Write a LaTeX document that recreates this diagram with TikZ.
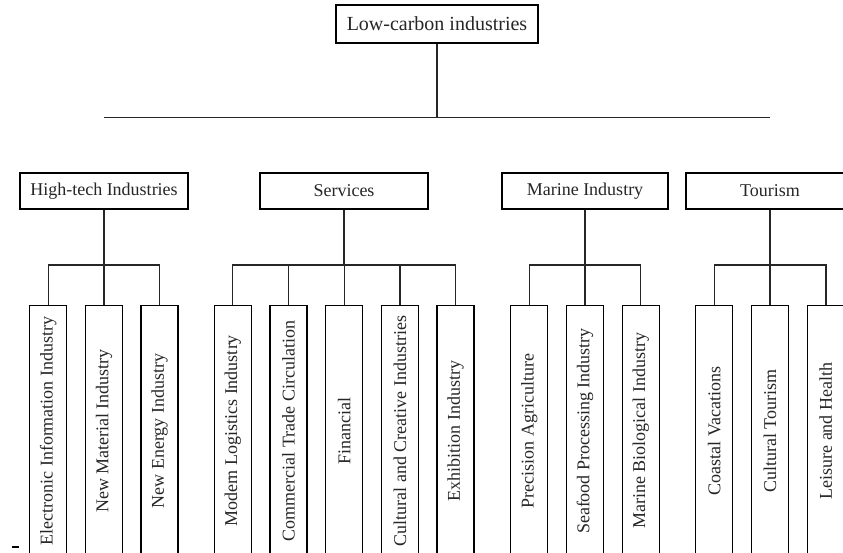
\documentclass[tikz,border=0pt]{standalone}
\usepackage{fontspec}
\setmainfont{Liberation Serif}
\begin{document}
\begin{tikzpicture}[x=1pt,y=-1pt,
  box/.style={draw=black, line width=1.3pt, fill=white, inner sep=0pt,
    text=black!85, font=\fontsize{18}{20}\selectfont},
  rootbox/.style={box, minimum width=202pt, minimum height=38pt,
    font=\fontsize{20}{22}\selectfont},
  catbox/.style={box, minimum width=168pt, minimum height=36pt},
  leafbox/.style={box, rotate=90, minimum width=251pt, minimum height=37pt},
  link/.style={draw=black!85, line width=1.4pt},
  bus/.style={to path={(\tikztostart) -- ++(0,55.3) -| (\tikztotarget)}}
]
\useasboundingbox (0,0) rectangle (843,553);
\clip (0,0) rectangle (843,553);

% root and the main horizontal line
\node[rootbox] (root) at (437,24) {Low-carbon industries};
\coordinate (hl) at (104,117.3);
\coordinate (hr) at (770,117.3);
\coordinate (hm) at (437,117.3);
\draw[link] (hl) -- (hr);
\draw[link] (root.south) -- (hm);

% categories
\node[catbox] (ht)  at (104,191)   {High-tech Industries};
\node[catbox] (sv)  at (344,191)   {Services};
\node[catbox, minimum width=166pt] (mi) at (585,191) {Marine Industry};
\node[catbox] (tr)  at (770,191)   {Tourism};

% leaves (rotated boxes: their top edge is the .east anchor)
\node[leafbox] (h1) at (48.3,431)  {Electronic Information Industry};
\node[leafbox] (h2) at (104,431)   {New Material Industry};
\node[leafbox] (h3) at (159.6,431) {New Energy Industry};

\node[leafbox] (s1) at (232.7,431) {Modern Logistics Industry};
\node[leafbox] (s2) at (288.5,431) {Commercial Trade Circulation};
\node[leafbox] (s3) at (344.2,431) {Financial};
\node[leafbox] (s4) at (400,431)   {Cultural and Creative Industries};
\node[leafbox] (s5) at (455.5,431) {Exhibition Industry};

\node[leafbox] (m1) at (529.2,431) {Precision Agriculture};
\node[leafbox] (m2) at (585,431)   {Seafood Processing Industry};
\node[leafbox] (m3) at (640.7,431) {Marine Biological Industry};

\node[leafbox] (t1) at (714.2,431) {Coastal Vacations};
\node[leafbox] (t2) at (770,431)   {Cultural Tourism};
\node[leafbox] (t3) at (825.8,431) {Leisure and Health};

% category-to-leaf connectors
\draw[link] (ht.south) edge[link,bus] (h1.east) edge[link,bus] (h2.east) edge[link,bus] (h3.east);
\draw[link] (sv.south) edge[link,bus] (s1.east) edge[link,bus] (s2.east) edge[link,bus] (s3.east)
                       edge[link,bus] (s4.east) edge[link,bus] (s5.east);
\draw[link] (mi.south) edge[link,bus] (m1.east) edge[link,bus] (m2.east) edge[link,bus] (m3.east);
\draw[link] (tr.south) edge[link,bus] (t1.east) edge[link,bus] (t2.east) edge[link,bus] (t3.east);

% small mark at the lower left
\coordinate (ma) at (12,546.5);
\coordinate (mb) at (19,546.5);
\draw[line width=2pt, black] (ma) -- (mb);
\end{tikzpicture}
\end{document}
